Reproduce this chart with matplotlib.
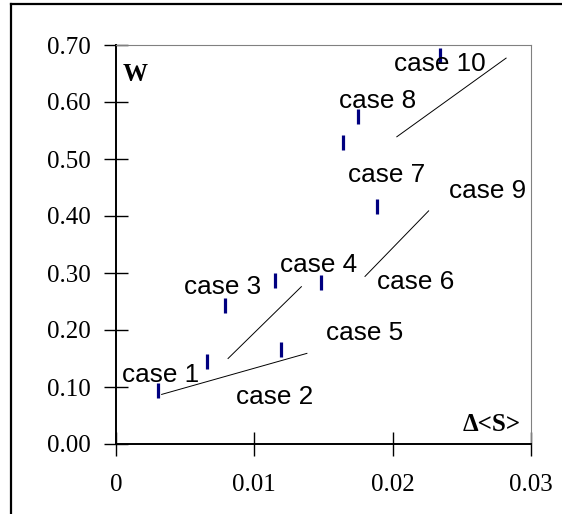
import matplotlib
matplotlib.use("Agg")
import matplotlib.pyplot as plt
from matplotlib.lines import Line2D

# Measured points (Δ<S>, W)
delta_s = [0.0030, 0.0066, 0.0079, 0.0115, 0.0119, 0.0148, 0.0189, 0.0164, 0.0175, 0.0234]
w_vals = [0.094, 0.146, 0.243, 0.287, 0.167, 0.285, 0.418, 0.530, 0.576, 0.682]

# Trend segments: (x0, x1), (y0, y1)
seg_x = [(0.0033, 0.0138), (0.0081, 0.0134), (0.0180, 0.0226), (0.0203, 0.0282)]
seg_y = [(0.087, 0.159), (0.150, 0.276), (0.294, 0.409), (0.539, 0.677)]

# Case labels and their anchor points
case_labels = ["case 1", "case 2", "case 3", "case 4", "case 5",
               "case 6", "case 7", "case 8", "case 9", "case 10"]
label_x = [0.0004, 0.00865, 0.0049, 0.01185, 0.01515,
           0.01886, 0.01679, 0.01611, 0.02406, 0.0201]
label_y = [0.121, 0.083, 0.275, 0.314, 0.194,
           0.285, 0.472, 0.602, 0.444, 0.666]

x_ticks = [0, 0.01, 0.02, 0.03]
x_tick_labels = ["0", "0.01", "0.02", "0.03"]
y_ticks = [0.0, 0.1, 0.2, 0.3, 0.4, 0.5, 0.6, 0.7]
y_tick_labels = ["0.00", "0.10", "0.20", "0.30", "0.40", "0.50", "0.60", "0.70"]

serif = "Liberation Serif"
sans = "Liberation Sans"

fig = plt.figure(figsize=(5.62, 5.14), dpi=100)
ax = fig.add_axes([116 / 562, 70 / 514, (531 - 116) / 562, (444 - 45) / 514])

ax.set_xlim(0, 0.03)
ax.set_ylim(0, 0.70)

for (x0, x1), (y0, y1) in zip(seg_x, seg_y):
    ax.plot([x0, x1], [y0, y1], color="black", lw=0.7, zorder=2)

ax.plot(delta_s, w_vals, linestyle="none", marker="|", markersize=10.8,
        markeredgewidth=2.3, color="#000080", zorder=3)

for txt, lx, ly in zip(case_labels, label_x, label_y):
    ax.text(lx, ly, txt, ha="left", va="center", fontsize=18.8,
            family=sans, color="black", zorder=4)

ax.text(0.015, 0.925, "W", transform=ax.transAxes, ha="left", va="center",
        fontsize=18, fontweight="bold", family=serif)
ax.text(0.975, 0.05, "Δ<S>", transform=ax.transAxes, ha="right", va="center",
        fontsize=18, fontweight="bold", family=serif)

ax.set_xticks(x_ticks)
ax.set_xticklabels(x_tick_labels)
ax.set_yticks(y_ticks)
ax.set_yticklabels(y_tick_labels)
ax.tick_params(axis="both", direction="inout", length=17, width=1.0,
               color="black", labelsize=18, pad=10)
ax.tick_params(axis="x", pad=13)
for lbl in ax.get_xticklabels() + ax.get_yticklabels():
    lbl.set_family(serif)

for side in ("left", "bottom"):
    ax.spines[side].set_color("black")
    ax.spines[side].set_linewidth(1.4)
for side in ("top", "right"):
    ax.spines[side].set_color("#808080")
    ax.spines[side].set_linewidth(0.8)

# Outer frame (left and top edges)
fig.add_artist(Line2D([11 / 562, 11 / 562], [0, 1 - 4 / 514],
                      transform=fig.transFigure, color="black", lw=1.6))
fig.add_artist(Line2D([11 / 562, 1], [1 - 4 / 514, 1 - 4 / 514],
                      transform=fig.transFigure, color="black", lw=1.6))

fig.savefig("out.png", dpi=100)
